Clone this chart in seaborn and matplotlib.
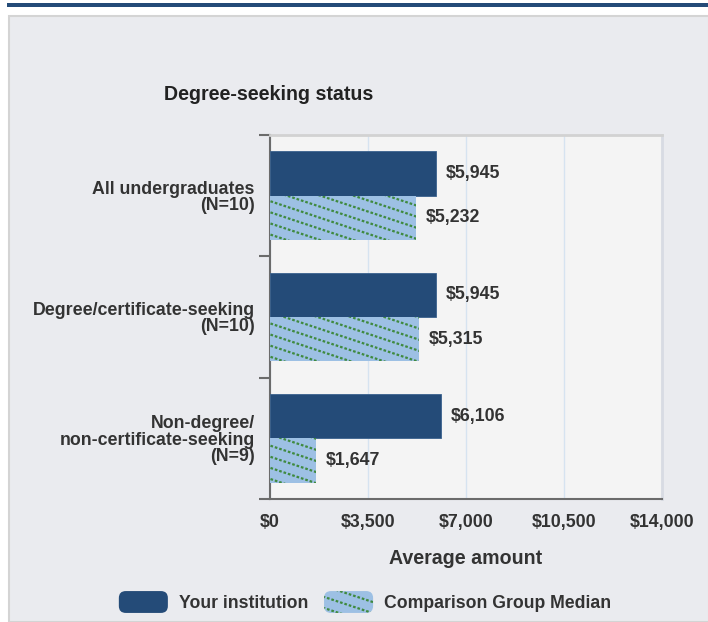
import matplotlib
matplotlib.use("Agg")
import numpy as np
import matplotlib.pyplot as plt
import matplotlib.hatch as mhatch
from matplotlib.path import Path
import seaborn as sns
import pandas as pd
from matplotlib.patches import Rectangle, FancyBboxPatch
from matplotlib.legend_handler import HandlerPatch
from matplotlib.ticker import FuncFormatter

categories = ["All undergraduates\n(N=10)",
              "Degree/certificate-seeking\n(N=10)",
              "Non-degree/\nnon-certificate-seeking\n(N=9)"]
series = ["Your institution", "Comparison Group Median"]
your_values = [5945, 5945, 6106]
comp_values = [5232, 5315, 1647]
x_ticks = [0, 3500, 7000, 10500, 14000]
title = "Degree-seeking status"
x_label = "Average amount"

DARK = "#244b78"
LIGHT = "#9dc0e4"
GREEN = "#3f8a3f"


# dotted, shallow diagonal hatch (replaces the plain "\" hatch)
class DottedDiagonalHatch(mhatch.HatchPatternBase):
    SLOPE = 1 / 3      # drop per unit x (tile units)
    LINES = 9          # lines per tile vertically
    DOTS = 23          # dots per tile horizontally
    HALF = 0.002       # half length of one dot (x, tile units)

    def __init__(self, hatch, density):
        self.active = "\\" in hatch
        self.segments = []
        if self.active:
            xs = (np.arange(self.DOTS) + 0.5) / self.DOTS
            for k in range(-2, self.LINES + 6):
                c = k / self.LINES
                for x in xs:
                    y = c - self.SLOPE * x
                    if -0.03 <= y <= 1.03:
                        self.segments.append(
                            ((x - self.HALF, y + self.SLOPE * self.HALF),
                             (x + self.HALF, y - self.SLOPE * self.HALF)))
        self.num_vertices = 2 * len(self.segments)

    def set_vertices_and_codes(self, vertices, codes):
        for i, (a, b) in enumerate(self.segments):
            vertices[2 * i] = a
            vertices[2 * i + 1] = b
            codes[2 * i] = Path.MOVETO
            codes[2 * i + 1] = Path.LINETO


mhatch._hatch_types[:] = [DottedDiagonalHatch if t is mhatch.SouthEastHatch
                          else t for t in mhatch._hatch_types]

df = pd.DataFrame({
    "category": categories * 2,
    "series": [series[0]] * 3 + [series[1]] * 3,
    "value": your_values + comp_values,
})

sns.set_theme(style="white")
plt.rcParams["font.family"] = ["Liberation Sans", "DejaVu Sans"]
plt.rcParams["hatch.linewidth"] = 1.6

fig = plt.figure(figsize=(7.08, 6.22), dpi=100, facecolor="white")

# decorative header band and panel
fig.patches.append(Rectangle((7 / 708, 1 - 7 / 622), 701 / 708, 4 / 622,
                             transform=fig.transFigure, facecolor=DARK,
                             edgecolor="none", zorder=-10))
fig.patches.append(Rectangle((9 / 708, 0), 700 / 708, 1 - 16 / 622,
                             transform=fig.transFigure, facecolor="#eaebef",
                             edgecolor="#d4d4d4", linewidth=1.5, zorder=-10))

ax = fig.add_axes([270 / 708, 1 - 499 / 622, 392 / 708, 364 / 622])
ax.set_facecolor("#f4f4f4")

sns.barplot(data=df, y="category", x="value", hue="series", orient="h",
            palette=[DARK, LIGHT], width=0.73, gap=0, ax=ax, legend=False,
            saturation=1, zorder=3)

bars = ax.patches
for i, p in enumerate(bars):
    if i >= 3:
        p.set_hatch("\\")
        p.set_edgecolor(GREEN)
        p.set_linewidth(0)
    else:
        p.set_edgecolor("#3a628e")
        p.set_linewidth(0.6)

for cont, vals in zip(ax.containers, [your_values, comp_values]):
    ax.bar_label(cont, labels=[f"${v:,.0f}" for v in vals], padding=7,
                 fontsize=12.8, fontweight="bold", color="#333333")

ax.set_xlim(0, 14000)
ax.set_ylim(2.5, -0.5)
ax.set_xticks(x_ticks)
ax.xaxis.set_major_formatter(FuncFormatter(lambda v, _: f"${v:,.0f}"))
ax.tick_params(axis="x", length=0, pad=11, labelsize=12.8, labelcolor="#333333")
for lab in ax.get_xticklabels():
    lab.set_fontweight("bold")
ax.set_yticks([0, 1, 2])
ax.set_yticklabels(categories, fontsize=12.8, fontweight="bold",
                   color="#333333", linespacing=0.95)
ax.set_yticks([-0.5, 0.5, 1.5, 2.5], minor=True)
ax.tick_params(axis="y", which="major", length=0, pad=11)
ax.tick_params(axis="y", which="minor", length=8, width=1.5, color="#6b6b6b",
               left=True)
ax.set_ylabel("")
ax.set_xlabel(x_label, fontsize=14.1, fontweight="bold", color="#333333",
              labelpad=13)

ax.grid(axis="x", color="#d6e3f0", linewidth=1, zorder=0)
ax.set_axisbelow(True)
for side, col in [("left", "#6b6b6b"), ("bottom", "#6b6b6b"),
                  ("top", "#d2d2d2"), ("right", "#d8dbe3")]:
    ax.spines[side].set_visible(True)
    ax.spines[side].set_color(col)
    ax.spines[side].set_linewidth(1.5 if side in ("left", "bottom") else 2)

fig.text(269 / 708, 1 - 95 / 622, title, ha="center", va="center",
         fontsize=14.1, fontweight="bold", color="#222222")


class RoundHandler(HandlerPatch):
    def create_artists(self, legend, orig_handle, xdescent, ydescent,
                       width, height, fontsize, trans):
        p = FancyBboxPatch((-xdescent, -ydescent), width, height,
                           boxstyle="round,pad=0,rounding_size=5",
                           facecolor=orig_handle.get_facecolor(),
                           edgecolor=orig_handle.get_edgecolor(),
                           hatch=orig_handle.get_hatch(), linewidth=0,
                           transform=trans)
        return [p]


h1 = Rectangle((0, 0), 1, 1, facecolor=DARK, edgecolor=DARK)
h2 = Rectangle((0, 0), 1, 1, facecolor=LIGHT, edgecolor=GREEN, hatch="\\")
leg = fig.legend([h1, h2], series, loc="center",
                 bbox_to_anchor=(365 / 708, 1 - 602 / 622), ncol=2,
                 frameon=False, fontsize=12.7, handlelength=2.78,
                 handleheight=1.53, handletextpad=0.62, columnspacing=0.9,
                 handler_map={Rectangle: RoundHandler()})
for t in leg.get_texts():
    t.set_fontweight("bold")
    t.set_color("#333333")

fig.savefig("out.png", dpi=100, facecolor="white")
